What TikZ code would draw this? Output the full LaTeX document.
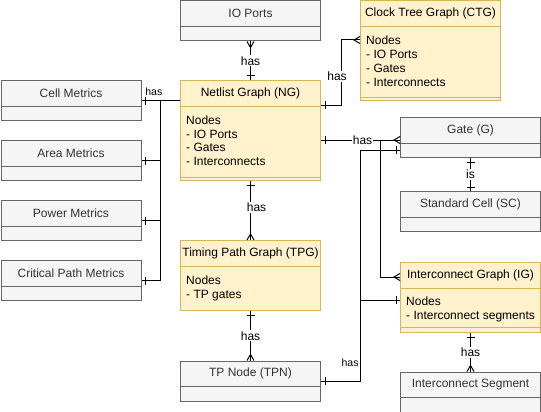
\documentclass[tikz,border=0pt]{standalone}
\usepackage{fontspec}
\setmainfont{Liberation Sans}
\usetikzlibrary{decorations.markings}

\definecolor{greyfill}{HTML}{F5F5F5}
\definecolor{greydraw}{HTML}{666666}
\definecolor{greytext}{HTML}{333333}
\definecolor{yfill}{HTML}{FFF2CC}
\definecolor{ydraw}{HTML}{D6B656}

\tikzset{
  entity/.style={rectangle, anchor=north west, minimum width=140pt,
    minimum height=40pt, inner sep=0pt, line width=1pt},
  greybox/.style={draw=greydraw, fill=greyfill},
  ybox/.style={draw=ydraw, fill=yfill},
  greyline/.style={draw=greydraw, line width=1pt},
  yline/.style={draw=ydraw, line width=1pt},
  title/.style={font=\fontsize{12}{14}\selectfont, inner sep=0pt},
  body/.style={font=\fontsize{12}{13.8}\selectfont, anchor=north west,
    align=left, inner sep=0pt},
  er/.style={line width=1pt},
  lbl/.style={font=\fontsize{12}{14}\selectfont, fill=white, inner sep=1pt},
  lbls/.style={font=\fontsize{10.5}{12}\selectfont, inner sep=1pt},
  one start/.style={postaction={decorate, decoration={markings,
    mark=at position 4pt with {\draw[line width=1pt] (0,-4pt) -- (0,4pt);}}}},
  one end/.style={postaction={decorate, decoration={markings,
    mark=at position -4pt with {\draw[line width=1pt] (0,-4pt) -- (0,4pt);}}}},
  many start/.style={postaction={decorate, decoration={markings,
    mark=at position 6pt with {\draw[line width=1pt] (-6pt,3.5pt) -- (0,0) -- (-6pt,-3.5pt);}}}},
  many end/.style={postaction={decorate, decoration={markings,
    mark=at position -6pt with {\draw[line width=1pt] (6pt,3.5pt) -- (0,0) -- (6pt,-3.5pt);}}}},
}

\begin{document}
\begin{tikzpicture}[x=1pt, y=-1pt]
  \useasboundingbox[fill=white] (0,0) rectangle (541,412);

  \foreach \nm/\px/\py/\ttl in {io/180/0.5/IO Ports, cell/0.5/80/Cell Metrics,
      area/0.5/140/Area Metrics, power/0.5/200/Power Metrics,
      crit/0.5/260/Critical Path Metrics, gate/400/117/Gate (G),
      sc/400/191/Standard Cell (SC), seg/400/371.5/Interconnect Segment,
      tpn/180/360.5/TP Node (TPN)} {
    \node[entity, greybox] (\nm) at (\px,\py) {};
    \draw[greyline] ([yshift=-26pt]\nm.north west) -- ([yshift=-26pt]\nm.north east);
    \node[title, text=greytext] (\nm-t) at ([yshift=-13pt]\nm.north) {\ttl};
  }

  \node[entity, ybox, minimum height=100pt] (ng) at (180,80) {};
  \draw[yline] ([yshift=-26pt]ng.north west) -- ([yshift=-26pt]ng.north east)
    ([yshift=4pt]ng.south west) -- ([yshift=4pt]ng.south east);
  \node[title] (ng-t) at ([yshift=-13pt]ng.north) {Netlist Graph (NG)};
  \node[body] (ng-b) at ([shift={(6pt,-35.5pt)}]ng.north west)
    {Nodes\\- IO Ports\\- Gates\\- Interconnects};

  \node[entity, ybox, minimum height=99.5pt] (ctg) at (360,0.5) {};
  \draw[yline] ([yshift=-26pt]ctg.north west) -- ([yshift=-26pt]ctg.north east)
    ([yshift=4pt]ctg.south west) -- ([yshift=4pt]ctg.south east);
  \node[title] (ctg-t) at ([yshift=-13pt]ctg.north) {Clock Tree Graph (CTG)};
  \node[body] (ctg-b) at ([shift={(6pt,-35.5pt)}]ctg.north west)
    {Nodes\\- IO Ports\\- Gates\\- Interconnects};

  \node[entity, ybox, minimum height=70pt] (tpg) at (180,240) {};
  \draw[yline] ([yshift=-26pt]tpg.north west) -- ([yshift=-26pt]tpg.north east);
  \node[title] (tpg-t) at ([yshift=-13pt]tpg.north) {Timing Path Graph (TPG)};
  \node[body] (tpg-b) at ([shift={(6pt,-35.5pt)}]tpg.north west)
    {Nodes\\- TP gates};

  \node[entity, ybox, minimum height=70pt] (ig) at (400,262) {};
  \draw[yline] ([yshift=-26pt]ig.north west) -- ([yshift=-26pt]ig.north east)
    ([yshift=6pt]ig.south west) -- ([yshift=6pt]ig.south east);
  \node[title] (ig-t) at ([yshift=-13pt]ig.north) {Interconnect Graph (IG)};
  \node[body] (ig-b) at ([shift={(6pt,-34.5pt)}]ig.north west)
    {Nodes\\- Interconnect segments};

  \coordinate (mbus) at (160,0);
  \coordinate (cbus) at (341,0);
  \coordinate (tbus) at (360,0);
  \coordinate (gbus) at (380,0);
  \coordinate (ng-c) at ([yshift=-25pt]ng.north east);
  \coordinate (ng-g) at ([yshift=-60pt]ng.north east);
  \coordinate (ctg-in) at ([yshift=-39.5pt]ctg.north west);
  \coordinate (gate-a) at ([yshift=-23pt]gate.north west);
  \coordinate (gate-b) at ([yshift=-33pt]gate.north west);
  \coordinate (ig-a) at ([yshift=-15pt]ig.north west);
  \coordinate (ig-b) at ([yshift=-38pt]ig.north west);

  \draw[er, many start, one end] (io.south) -- node[lbl] (io-l) {has} (ng.north);
  \draw[er, one start, many end] (ng-c) -| node[lbl, pos=0.72, xshift=-4pt] (ctg-l) {has}
    (cbus |- ctg-in) -- (ctg-in);
  \draw[er, many end] (ng-g) -| (gbus |- ig-a) -- (ig-a);
  \draw[er, one start, many end] (ng-g) -- node[lbl, xshift=2pt] (gate-l) {has} (gate-a);
  \draw[er, one start, one end] (tpn.east) -| node[lbls, pos=0.54, anchor=east] (tpn-l) {has}
    (tbus |- gate-b) -- (gate-b);
  \draw[er, one end] (tpn.east) -| (tbus |- ig-b) -- (ig-b);
  \draw[er, one start, one end] (gate.south) -- node[lbl] (sc-l) {is} (sc.north);
  \draw[er, one start, many end] (ig.south) -- node[lbl] (seg-l) {has} (seg.north);
  \draw[er, one start, many end] (ng.south) -- node[lbl, pos=0.45, xshift=6pt] (tpg-l) {has} (tpg.north);
  \draw[er, one start, many end] (tpg.south) -- node[lbl] (tpn-l2) {has} (tpn.north);

  \draw[er, one end] (ng.west |- cell.east) -- node[lbls, pos=0.68, above=3pt] (cell-l) {has} (cell.east);
  \foreach \m in {area, power, crit}
    \draw[er, one end] (ng.west |- cell.east) -| (mbus |- \m.east) -- (\m.east);
\end{tikzpicture}
\end{document}
